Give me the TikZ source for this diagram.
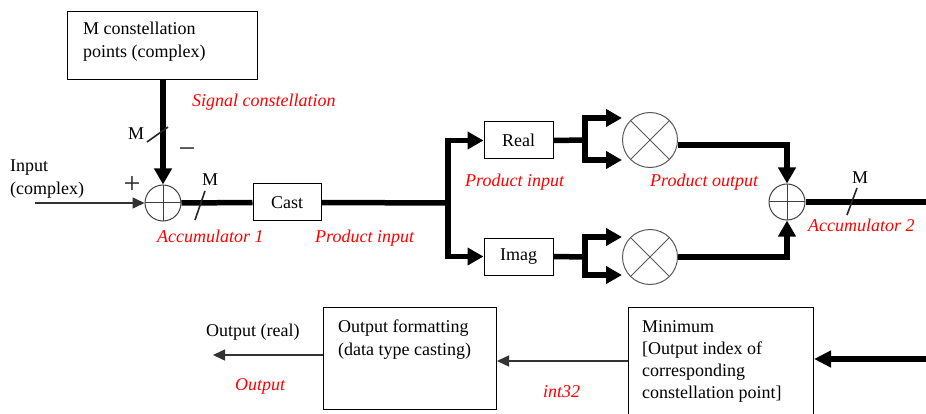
\documentclass[tikz,border=0pt]{standalone}
\usepackage{fontspec}
\setmainfont{Liberation Serif}
\usetikzlibrary{arrows.meta}
\begin{document}
\begin{tikzpicture}[x=1pt,y=-1pt,
  box/.style={draw, line width=1pt, inner sep=0pt},
  txt/.style={font=\fontsize{18}{23}\selectfont, inner sep=0pt},
  lbl/.style={txt, anchor=base west},
  signlbl/.style={font=\fontsize{30}{30}\selectfont, inner sep=0pt, text=black!85},
  redlbl/.style={text=red, font=\fontsize{18}{23}\selectfont\itshape, inner sep=0pt, anchor=base west},
  bus/.style={line width=5.5pt, line join=miter},
  busarrow/.style={bus, -{Triangle[length=16pt,width=17pt]}},
  thinarrow/.style={line width=1.5pt, draw=black!80, -{Triangle[length=12pt,width=11pt]}},
  slash/.style={line width=1.6pt, draw=black!85},
  sumnode/.style={circle, draw=black!75, line width=1pt, minimum size=36pt, inner sep=0pt,
    path picture={\draw[black!75, line width=1pt] (path picture bounding box.north) -- (path picture bounding box.south)
      (path picture bounding box.west) -- (path picture bounding box.east);}},
  multnode/.style={circle, draw=black!65, line width=1pt, minimum size=55pt, inner sep=0pt,
    path picture={\draw[black!65, line width=1pt] (path picture bounding box.north west) -- (path picture bounding box.south east)
      (path picture bounding box.south west) -- (path picture bounding box.north east);}}
]
\useasboundingbox (0,0) rectangle (926,414);

% ---- boxes ----
\node[box, anchor=north west, minimum width=190pt, minimum height=68pt] (mbox) at (67,11) {};
\node[lbl] (mtext) at (83,35) {\vtop{\hbox{M constellation}\hbox{points (complex)}}};

\node[sumnode] (sum1) at (163,203) {};
\node[box, minimum width=68pt, minimum height=37pt, txt] (cast) at (287,202.5) {Cast};
\node[box, minimum width=69pt, minimum height=37pt, txt] (real) at (518.5,140.5) {Real};
\node[box, minimum width=69pt, minimum height=37pt, txt] (imag) at (518.5,256.5) {Imag};
\node[multnode] (mult1) at (650,140) {};
\node[multnode] (mult2) at (650,257) {};
\node[sumnode] (sum2) at (787,202) {};

\node[box, anchor=north west, minimum width=173pt, minimum height=102pt] (ofbox) at (323,307) {};
\node[lbl] (oftext) at (338,332) {\vtop{\hbox{Output formatting}\hbox{(data type casting)}}};
\node[box, anchor=north west, minimum width=185pt, minimum height=115pt] (minbox) at (628,307) {};
\node[lbl, font=\fontsize{18}{22}\selectfont] (mintext) at (642,332) {\vtop{\hbox{Minimum}\hbox{[Output index of}\hbox{corresponding}\hbox{constellation point]}}};

% ---- coordinates ----
\coordinate (inL) at (35,203);
\coordinate (split) at (448,203);
\coordinate (fork1) at (585,140);
\coordinate (fork2) at (585,257);
\coordinate (outR) at (926,202);
\coordinate (inR) at (926,359);
\coordinate (outL) at (213,355);

% ---- connectors ----
\draw[busarrow] (sum1 |- mbox.south) -- (sum1.north);
\draw[thinarrow] (inL) -- (sum1.west);
\draw[bus] (sum1.east) -- (cast.west);
\draw[bus] (cast.east) -- (split);
\draw[busarrow] (split) |- (real.west);
\draw[busarrow] (split) |- (imag.west);

\draw[bus] (real.east) -- (fork1);
\draw[busarrow] (fork1) |- ([yshift=22pt]fork1 -| mult1.west);
\draw[busarrow] (fork1) |- ([yshift=-20pt]fork1 -| mult1.west);

\draw[bus] (imag.east) -- (fork2);
\draw[busarrow] (fork2) |- ([yshift=20pt]fork2 -| mult2.west);
\draw[busarrow] (fork2) |- ([yshift=-18pt]fork2 -| mult2.west);

\draw[busarrow] ([yshift=-5pt]mult1.east) -| (sum2.north);
\draw[busarrow] (mult2.east) -| (sum2.south);
\draw[bus] (sum2.east) -- (outR);

\draw[bus, -{Triangle[length=17pt,width=16pt]}] (inR) -- (inR -| minbox.east);
\draw[thinarrow] (minbox.west |- 0,361) -- (ofbox.east |- 0,361);
\draw[thinarrow] (ofbox.west |- outL) -- (outL);

% ---- bus width slashes ----
\draw[slash] (147,142) -- (168,127);
\draw[slash] (195,220) -- (205,191);
\draw[slash] (847,215) -- (857,188);

% ---- labels ----
\node[lbl] (mA) at (128,140) {M};
\node[signlbl] (minus) at (187,153) {−};
\node[signlbl] (plus) at (132,185) {+};
\node[lbl] (inlbl) at (10,172) {\vtop{\hbox{Input}\hbox{(complex)}}};
\node[lbl] (mB) at (202,186) {M};
\node[lbl] (mC) at (852,184) {M};
\node[lbl] (outlbl) at (206,336) {Output (real)};

\node[redlbl] (sigc) at (192,107) {Signal constellation};
\node[redlbl] (acc1) at (157,243) {Accumulator 1};
\node[redlbl] (pin1) at (315,243) {Product input};
\node[redlbl] (pin2) at (465,187) {Product input};
\node[redlbl] (pout) at (650,187) {Product output};
\node[redlbl] (acc2) at (808,232) {Accumulator 2};
\node[redlbl] (outr) at (235,390) {Output};
\node[redlbl] (i32) at (543,397) {int32};
\end{tikzpicture}
\end{document}
